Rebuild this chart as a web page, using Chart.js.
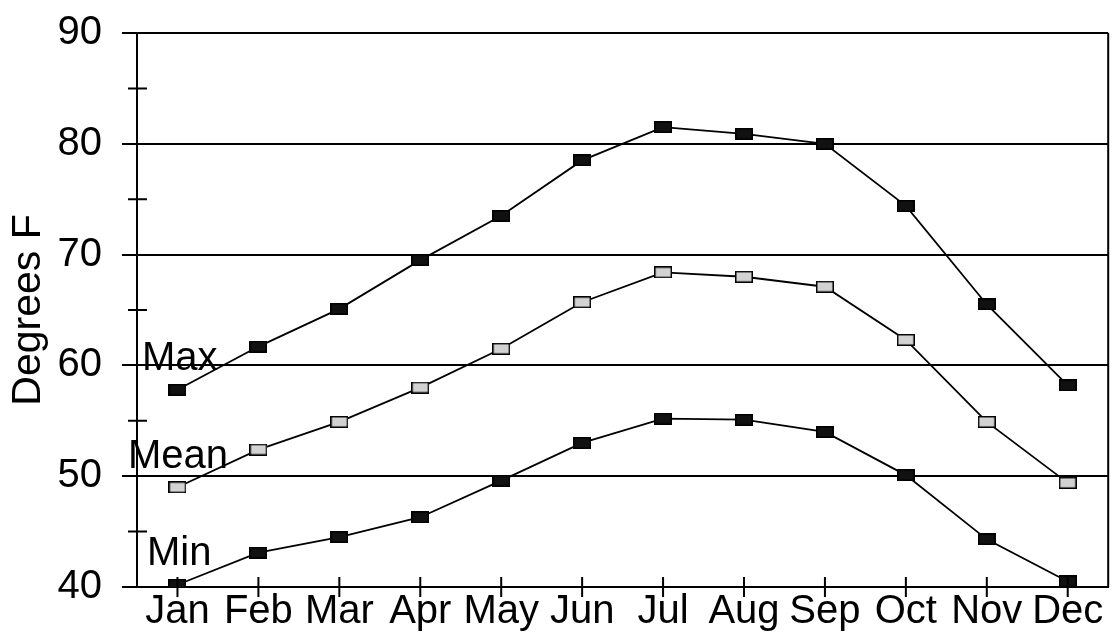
<!DOCTYPE html>
<html>
<head>
<meta charset="utf-8">
<script src="https://cdn.jsdelivr.net/npm/chart.js@4/dist/chart.umd.min.js"></script>
<style>
  html, body { margin: 0; padding: 0; background: #fff; }
  #wrap { width: 1119px; height: 636px; }
</style>
</head>
<body>
<div id="wrap"><canvas id="tempChart"></canvas></div>
<script>
const MONTHS = ['Jan', 'Feb', 'Mar', 'Apr', 'May', 'Jun', 'Jul', 'Aug', 'Sep', 'Oct', 'Nov', 'Dec'];
const MAX_TEMPS = [57.8, 61.7, 65.1, 69.5, 73.5, 78.5, 81.5, 80.9, 80.0, 74.4, 65.5, 58.2];
const MEAN_TEMPS = [49.0, 52.4, 54.9, 58.0, 61.5, 65.7, 68.4, 68.0, 67.1, 62.3, 54.9, 49.4];
const MIN_TEMPS = [40.2, 43.1, 44.5, 46.3, 49.6, 53.0, 55.2, 55.1, 54.0, 50.1, 44.3, 40.5];
const MINOR_TICKS = [45, 55, 65, 75, 85];
const SERIES_NAMES = ['Max', 'Mean', 'Min'];

const FONT = 'Liberation Sans, Arial, sans-serif';

function marker(fill) {
    let c = document.createElement('canvas');
    c.width = 18;
    c.height = 12;
    let g = c.getContext('2d');
    g.fillStyle = '#000';
    g.fillRect(0, 0, 18, 12);
    g.fillStyle = fill;
    g.fillRect(1.5, 1.5, 15, 9);
    return c;
}

const blackBox = marker('#111');
const greyBox = marker('#d2d2d2');

function series(label, data, box) {
    return {
        label: label,
        data: data,
        borderColor: '#000',
        borderWidth: 1.8,
        tension: 0,
        fill: false,
        pointStyle: box,
        pointRadius: 9,
        clip: 0,
    };
}

// extra marks: crossing tick marks, right frame edge, in-plot series names
const extras = {
    id: 'extras',
    afterDraw(chart) {
        const ctx = chart.ctx;
        const area = chart.chartArea;
        const x = chart.scales.x;
        const y = chart.scales.y;
        ctx.save();
        ctx.strokeStyle = '#000';
        ctx.lineWidth = 2;
        ctx.beginPath();
        MINOR_TICKS.forEach(v => {
            let py = y.getPixelForValue(v);
            ctx.moveTo(area.left - 9, py);
            ctx.lineTo(area.left + 10, py);
        });
        MONTHS.forEach((m, i) => {
            let px = x.getPixelForValue(i);
            ctx.moveTo(px, area.bottom - 10);
            ctx.lineTo(px, area.bottom + 10);
        });
        ctx.moveTo(area.right, area.top);
        ctx.lineTo(area.right, area.bottom);
        ctx.stroke();

        ctx.fillStyle = '#000';
        ctx.font = '40px ' + FONT;
        ctx.textBaseline = 'alphabetic';
        ctx.textAlign = 'left';
        ctx.fillText(SERIES_NAMES[0], area.left + 5, 370);
        ctx.fillText(SERIES_NAMES[1], area.left - 9, 468);
        ctx.fillText(SERIES_NAMES[2], area.left + 10, 565);
        ctx.restore();
    }
};

const config = {
    type: 'line',
    data: {
        labels: MONTHS,
        datasets: [
            series('Max', MAX_TEMPS, blackBox),
            series('Mean', MEAN_TEMPS, greyBox),
            series('Min', MIN_TEMPS, blackBox),
        ]
    },
    options: {
        responsive: true,
        maintainAspectRatio: false,
        animation: false,
        layout: {
            padding: { top: 33, right: 6, left: 0, bottom: 0 }
        },
        plugins: {
            legend: { display: false },
            tooltip: { enabled: false },
        },
        scales: {
            x: {
                offset: true,
                afterFit: (s) => { s.height = 49; s.paddingLeft = 0; s.paddingRight = 0; },
                grid: { display: false, drawTicks: false },
                border: { display: true, color: '#000', width: 2 },
                ticks: {
                    color: '#000',
                    padding: 1,
                    maxRotation: 0,
                    autoSkip: false,
                    font: { family: FONT, size: 40 }
                }
            },
            y: {
                min: 40,
                max: 90,
                afterFit: (s) => { s.width = 137; s.paddingTop = 0; s.paddingBottom = 0; },
                grid: {
                    color: '#000',
                    lineWidth: 2,
                    tickLength: 15,
                    drawTicks: true
                },
                border: { display: true, color: '#000', width: 2 },
                ticks: {
                    stepSize: 10,
                    color: '#000',
                    padding: 20,
                    font: { family: FONT, size: 40 }
                },
                title: {
                    display: true,
                    text: 'Degrees F',
                    color: '#000',
                    padding: { top: 4, bottom: 0 },
                    font: { family: FONT, size: 41 }
                }
            }
        }
    },
    plugins: [extras]
};

new Chart(document.getElementById('tempChart').getContext('2d'), config);
</script>
</body>
</html>
